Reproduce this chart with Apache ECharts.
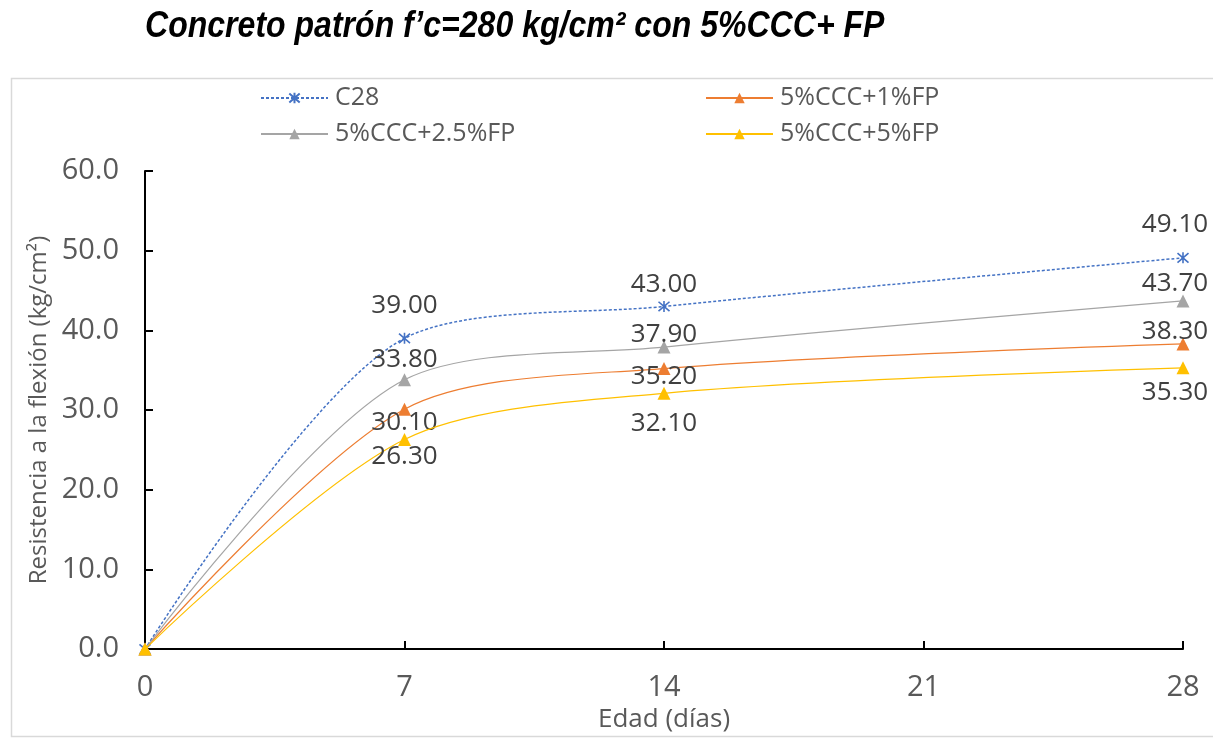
<!DOCTYPE html>
<html>
<head>
<meta charset="utf-8">
<script src="https://cdn.jsdelivr.net/npm/echarts@6/dist/echarts.min.js"></script>
<style>
html,body{margin:0;padding:0;background:#fff;}
#chart{width:1213px;height:738px;}
</style>
</head>
<body>
<div id="chart"></div>
<script>
// ---- data ----
var titleText = 'Concreto patrón f’c=280 kg/cm² con 5%CCC+ FP';
var dias = [0, 7, 14, 28];
var xTicks = [0, 7, 14, 21, 28];
var seriesNames = ['C28', '5%CCC+1%FP', '5%CCC+2.5%FP', '5%CCC+5%FP'];
var c28 = [0, 39.00, 43.00, 49.10];
var ccc1 = [0, 30.10, 35.20, 38.30];
var ccc25 = [0, 33.80, 37.90, 43.70];
var ccc5 = [0, 26.30, 32.10, 35.30];
var yTicks = [0, 10, 20, 30, 40, 50, 60];

// ---- styling ----
var colors = ['#4472C4', '#ED7D31', '#A5A5A5', '#FFC000'];
var labelDy = [
  [0, -33, -22, -33],
  [0, 13, 8, -12],
  [0, -20, -13, -17],
  [0, 17, 30, 25]
];
var labelDx = [0, 0, 0, -8];
var FONT = '"Open Sans", sans-serif';
var asterisk = 'path://M5,0L5,10M0.7,0.7L9.3,9.3M0.7,9.3L9.3,0.7';

function build(vals, si) {
  return vals.map(function (v, i) {
    return {
      value: [dias[i], v],
      label: {
        show: i > 0,
        offset: [labelDx[i], labelDy[si][i]]
      }
    };
  });
}

var allVals = [c28, ccc1, ccc25, ccc5];
var series = allVals.map(function (vals, si) {
  var isStar = si === 0;
  return {
    name: seriesNames[si],
    type: 'line',
    smooth: 0.3,
    data: build(vals, si),
    symbol: isStar ? asterisk : 'triangle',
    symbolSize: isStar ? 11 : 13,
    clip: false,
    lineStyle: {
      color: colors[si],
      width: isStar ? 1.5 : 1.2,
      type: isStar ? [3, 2] : 'solid'
    },
    itemStyle: isStar
      ? { color: 'rgba(0,0,0,0)', borderColor: colors[si], borderWidth: 1.6 }
      : { color: colors[si], borderWidth: 0 },
    label: {
      show: true,
      position: 'inside',
      color: '#404040',
      fontFamily: FONT,
      fontSize: 26,
      formatter: function (p) { return p.value[1].toFixed(2); }
    },
    emphasis: { disabled: true },
    z: 2 + si
  };
});

var legendCommon = {
  orient: 'vertical',
  top: 78,
  itemWidth: 67,
  itemHeight: 13,
  itemGap: 6,
  selectedMode: false,
  textStyle: { fontFamily: FONT, fontSize: 25, color: '#595959', lineHeight: 30, padding: [0, 0, 0, 2] }
};

var option = {
  animation: false,
  backgroundColor: '#fff',
  graphic: [{
    type: 'rect',
    silent: true,
    z: -10,
    shape: { x: 11.5, y: 78.5, width: 1220, height: 658 },
    style: { fill: 'none', stroke: '#D9D9D9', lineWidth: 1.5 }
  }, {
    type: 'text',
    silent: true,
    x: 145,
    y: 9,
    scaleX: 0.89,
    style: {
      text: titleText,
      fontFamily: '"Liberation Sans", Arial, sans-serif',
      fontWeight: 'bold',
      fontStyle: 'italic',
      fontSize: 36,
      fill: '#000',
      textAlign: 'left',
      textVerticalAlign: 'top'
    }
  }],
  legend: [
    Object.assign({}, legendCommon, { left: 255, data: [seriesNames[0], seriesNames[2]] }),
    Object.assign({}, legendCommon, { left: 700, data: [seriesNames[1], seriesNames[3]] })
  ],
  grid: { left: 145, right: 30, top: 171, bottom: 85, containLabel: false },
  xAxis: {
    type: 'value',
    min: xTicks[0],
    max: xTicks[xTicks.length - 1],
    interval: 7,
    name: 'Edad (días)',
    nameLocation: 'middle',
    nameGap: 55,
    nameTextStyle: { fontFamily: FONT, fontSize: 26, color: '#595959' },
    axisLine: { show: true, lineStyle: { color: '#000', width: 2 } },
    axisTick: { show: true, inside: true, length: 8, lineStyle: { color: '#000', width: 2 } },
    axisLabel: { fontFamily: FONT, fontSize: 29, color: '#595959', margin: 24 },
    splitLine: { show: false }
  },
  yAxis: {
    type: 'value',
    min: yTicks[0],
    max: yTicks[yTicks.length - 1],
    interval: 10,
    name: 'Resistencia a la flexión (kg/cm²)',
    nameLocation: 'middle',
    nameGap: 82,
    nameTextStyle: { fontFamily: FONT, fontSize: 24, color: '#595959' },
    axisLine: { show: true, lineStyle: { color: '#000', width: 2 } },
    axisTick: { show: true, inside: true, length: 8, lineStyle: { color: '#000', width: 2 } },
    axisLabel: {
      fontFamily: FONT, fontSize: 29, color: '#595959', margin: 26,
      formatter: function (v) { return v.toFixed(1); }
    },
    splitLine: { show: false }
  },
  series: series
};

var chart = echarts.init(document.getElementById('chart'), null, { renderer: 'canvas' });
chart.setOption(option);
</script>
</body>
</html>
